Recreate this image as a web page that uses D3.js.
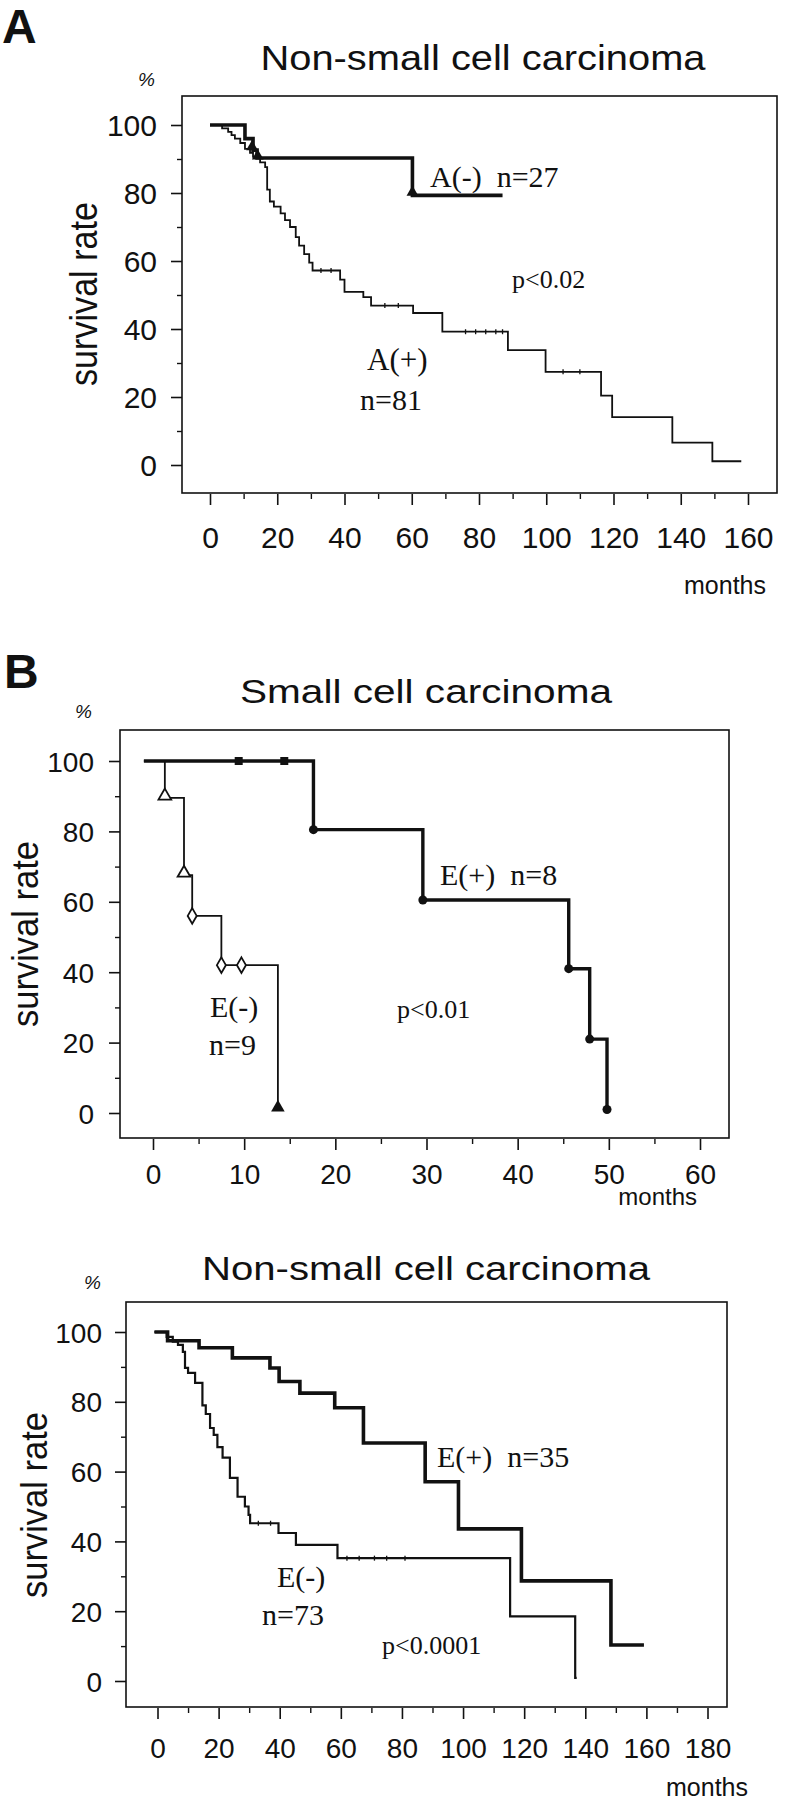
<!DOCTYPE html>
<html><head><meta charset="utf-8">
<script src="https://cdn.jsdelivr.net/npm/d3@7"></script>
<style>body{margin:0;background:#fff}svg{display:block}</style>
</head><body>
<svg id="c" width="787" height="1800"></svg>
<script>
// ---------- Panel A: Non-small cell carcinoma, A(-) vs A(+) ----------
const aXTicks = [0,20,40,60,80,100,120,140,160];
const aYTicks = [0,20,40,60,80,100];
const aNegT = [0, 10.4, 12.8, 14, 60.2];
const aNegS = [100, 96, 92.6, 90.3, 79.3];
const aNegEnd = 87;
const aNegMarks = [[12.5,93],[14.2,90.3],[60.2,79.6]];
const aPosT = [0,3.6,5.4,6.4,7.4,9,10.4,11.9,12.8,14.9,16.4,17,17.8,19,21,22.3,23.8,25.5,26.5,28,29.5,30.5,38.7,40,45.6,47.9,60.4,69.1,88.6,99.8,116.3,119.6,137.5,149.4];
const aPosS = [100,99,98,97,96,94.7,93,91.8,90.6,89,87.6,81,77.5,76,74,72,70,67,64.5,62,59.5,57.2,54.5,50.9,49.4,46.9,44.7,39.2,33.8,27.4,20.4,14.1,6.6,1.1];
const aPosEnd = 158;
const aPosCensor = [33, 36, 52, 56, 76, 79, 82, 85, 87, 105, 110];

// ---------- Panel B1: Small cell carcinoma, E(+) vs E(-) ----------
const b1XTicks = [0,10,20,30,40,50,60];
const b1YTicks = [0,20,40,60,80,100];
const b1PosT = [-1, 17.6, 29.6, 45.6, 47.9, 49.8];
const b1PosS = [100, 80.5, 60.5, 41, 21, 1];
const b1PosEnd = 49.8;
const b1PosCensor = [9.4, 14.4];
const b1NegT = [-1, 1.3, 3.4, 4.3, 7.5, 13.7];
const b1NegS = [100, 89.5, 67.6, 56, 42, 1];
const b1NegEnd = 13.7;
const b1NegTri = [[1.3,89.5],[3.4,67.6]];
const b1NegDia = [[4.3,56],[7.5,42],[9.7,42]];

// ---------- Panel B2: Non-small cell carcinoma, E(+) vs E(-) ----------
const b2XTicks = [0,20,40,60,80,100,120,140,160,180];
const b2YTicks = [0,20,40,60,80,100];
const b2PosT = [-1, 3.3, 13.6, 24.5, 36.8, 39.8, 46.6, 58, 67.4, 87.6, 98.5, 119.1, 148.4];
const b2PosS = [100, 97.5, 95.5, 92.6, 89.7, 85.8, 82.5, 78.3, 68.2, 57.1, 43.6, 28.7, 10.3];
const b2PosEnd = 159.2;
const b2NegT = [-1, 3, 5, 6.7, 8.3, 9, 10, 12.3, 14.7, 15.8, 17.2, 18.4, 19.6, 21.3, 23.7, 26.2, 28.6, 29.8, 30.3, 39.6, 45.3, 58.9, 115.4, 136.7];
const b2NegS = [100, 98.6, 97.2, 96.3, 94.3, 89.7, 88.3, 85.4, 79, 76.5, 72.5, 70.5, 67, 64, 58.2, 52.8, 50, 47.6, 45.2, 42.4, 39, 35.2, 18.5, 0.9];
const b2NegEnd = 137.2;
const b2NegCensor = [33, 37, 62, 66, 71, 75, 81];

const svg = d3.select('#c');
const SANS = "'Liberation Sans', Arial, sans-serif";
const SERIF = "'Liberation Serif', 'Times New Roman', serif";

function panel(cfg) {
  const g = svg.append('g');
  const x = d3.scaleLinear().domain(cfg.xDomain).range(cfg.xRange);
  const y = d3.scaleLinear().domain([0, 100]).range(cfg.yRange);
  const [L, T, R, B] = cfg.frame;

  g.append('rect').attr('x', L).attr('y', T).attr('width', R - L).attr('height', B - T)
    .attr('fill', 'none').attr('stroke', '#111').attr('stroke-width', 1.6);

  const ya = g.append('g').attr('transform', `translate(${L},0)`)
    .call(d3.axisLeft(y).tickValues(cfg.yTicks).tickSize(11).tickPadding(cfg.yPad));
  ya.select('.domain').remove();
  ya.selectAll('line').attr('stroke', '#111').attr('stroke-width', 1.6);
  ya.selectAll('text').attr('font-family', SANS).attr('font-size', cfg.tickFs)
    .attr('fill', '#111').attr('dy', '0.36em');
  const yMinor = cfg.yTicks.slice(0, -1).map(v => v + 10);
  const ym = g.append('g').attr('transform', `translate(${L},0)`)
    .call(d3.axisLeft(y).tickValues(yMinor).tickSize(5).tickFormat(''));
  ym.select('.domain').remove();
  ym.selectAll('line').attr('stroke', '#111').attr('stroke-width', 1.4);

  const xa = g.append('g').attr('transform', `translate(0,${B + 1})`)
    .call(d3.axisBottom(x).tickValues(cfg.xTicks).tickSize(11).tickPadding(0));
  xa.select('.domain').remove();
  xa.selectAll('line').attr('stroke', '#111').attr('stroke-width', 1.6);
  xa.selectAll('text').attr('font-family', SANS).attr('font-size', cfg.tickFs)
    .attr('fill', '#111').attr('y', cfg.xLabOff).attr('dy', 0);
  const step = cfg.xTicks[1] - cfg.xTicks[0];
  const xMinor = cfg.xTicks.slice(0, -1).map(v => v + step / 2);
  const xm = g.append('g').attr('transform', `translate(0,${B + 1})`)
    .call(d3.axisBottom(x).tickValues(xMinor).tickSize(5).tickFormat(''));
  xm.select('.domain').remove();
  xm.selectAll('line').attr('stroke', '#111').attr('stroke-width', 1.4);

  g.append('text').attr('x', cfg.title.x).attr('y', cfg.title.y).attr('text-anchor', 'middle')
    .attr('font-family', SANS).attr('font-size', cfg.title.fs).attr('fill', '#111')
    .attr('textLength', cfg.title.w).attr('lengthAdjust', 'spacingAndGlyphs').text(cfg.title.text);
  g.append('text').attr('x', cfg.pct[0]).attr('y', cfg.pct[1]).attr('font-family', SANS)
    .attr('font-style', 'italic').attr('font-size', 19).attr('fill', '#111').text('%');
  g.append('text').attr('transform', `translate(${cfg.ylab[0]},${cfg.ylab[1]}) rotate(-90)`)
    .attr('text-anchor', 'middle').attr('font-family', SANS).attr('font-size', cfg.ylab[2])
    .attr('fill', '#111').attr('textLength', cfg.ylab[3]).attr('lengthAdjust', 'spacingAndGlyphs')
    .text('survival rate');
  g.append('text').attr('x', cfg.months[0]).attr('y', cfg.months[1]).attr('text-anchor', 'end')
    .attr('font-family', SANS).attr('font-size', cfg.months[2]).attr('fill', '#111').text('months');

  if (cfg.letter) {
    g.append('text').attr('x', cfg.letter.x).attr('y', cfg.letter.y).attr('font-family', SANS)
      .attr('font-weight', 'bold').attr('font-size', 48).attr('fill', '#111').text(cfg.letter.t);
  }
  cfg.notes.forEach(n => {
    g.append('text').attr('x', n[0]).attr('y', n[1]).attr('font-family', SERIF)
      .attr('font-size', n[2]).attr('fill', '#111').attr('xml:space', 'preserve').text(n[3]);
  });
  return {g, x, y};
}

function km(p, T, S, end, width) {
  const pts = T.map((t, i) => [t, S[i]]);
  pts.push([end, S[S.length - 1]]);
  const line = d3.line().x(d => p.x(d[0])).y(d => p.y(d[1])).curve(d3.curveStepAfter);
  p.g.append('path').attr('d', line(pts)).attr('fill', 'none').attr('stroke', '#111')
    .attr('stroke-width', width).attr('stroke-linejoin', 'miter');
}
function censorTicks(p, times, T, S, len) {
  times.forEach(t => {
    let s = S[0];
    T.forEach((tt, i) => { if (tt <= t) s = S[i]; });
    p.g.append('line').attr('x1', p.x(t)).attr('x2', p.x(t))
      .attr('y1', p.y(s) - len).attr('y2', p.y(s) + len).attr('stroke', '#111').attr('stroke-width', 1.3);
  });
}
const triSym = d3.symbol().type(d3.symbolTriangle);
const diaSym = d3.symbol().type(d3.symbolDiamond);

// ---------- draw panel A ----------
const pA = panel({
  xDomain: [0, 160], xRange: [210, 748], yRange: [465, 125],
  frame: [182, 96, 777, 493], xTicks: aXTicks, yTicks: aYTicks,
  tickFs: 30, yPad: 14, xLabOff: 54,
  title: {x: 483, y: 70, fs: 35, w: 445, text: 'Non-small cell carcinoma'},
  pct: [138, 86], ylab: [97, 294, 38, 184], months: [766, 594, 25],
  letter: {x: 2, y: 43, t: 'A'},
  notes: [[430, 187, 30, 'A(-)  n=27'], [512, 288, 26, 'p<0.02'], [367, 370, 31, 'A(+)'], [360, 410, 30, 'n=81']]
});
km(pA, aPosT, aPosS, aPosEnd, 1.8);
km(pA, aNegT, aNegS, aNegEnd, 3.6);
censorTicks(pA, aPosCensor, aPosT, aPosS, 2.5);
aNegMarks.forEach(m => pA.g.append('path').attr('d', triSym.size(60)())
  .attr('transform', `translate(${pA.x(m[0])},${pA.y(m[1]) - 2})`).attr('fill', '#111'));

// ---------- draw panel B1 ----------
const pB1 = panel({
  xDomain: [0, 60], xRange: [153, 700], yRange: [1113, 761],
  frame: [120, 730, 729, 1138], xTicks: b1XTicks, yTicks: b1YTicks,
  tickFs: 28, yPad: 15, xLabOff: 45,
  title: {x: 426, y: 703, fs: 34, w: 372, text: 'Small cell carcinoma'},
  pct: [75, 718], ylab: [38, 934, 36, 186], months: [697, 1205, 24],
  letter: {x: 4, y: 688, t: 'B'},
  notes: [[440, 885, 30, 'E(+)  n=8'], [210, 1017, 30, 'E(-)'], [209, 1055, 30, 'n=9'], [397, 1018, 26, 'p<0.01']]
});
km(pB1, b1NegT, b1NegS, b1NegEnd, 1.8);
km(pB1, b1PosT, b1PosS, b1PosEnd, 3.4);
b1PosT.slice(1).forEach((t, i) => pB1.g.append('circle').attr('cx', pB1.x(t)).attr('cy', pB1.y(b1PosS[i + 1]))
  .attr('r', 4.5).attr('fill', '#111'));
b1PosCensor.forEach(t => pB1.g.append('rect').attr('x', pB1.x(t) - 4).attr('y', pB1.y(100) - 4)
  .attr('width', 8).attr('height', 8).attr('fill', '#111'));
b1NegTri.forEach(m => pB1.g.append('path').attr('d', triSym.size(70)())
  .attr('transform', `translate(${pB1.x(m[0])},${pB1.y(m[1]) - 2})`).attr('fill', '#fff')
  .attr('stroke', '#111').attr('stroke-width', 1.8));
b1NegDia.forEach(m => pB1.g.append('path').attr('d', diaSym.size(70)())
  .attr('transform', `translate(${pB1.x(m[0])},${pB1.y(m[1])})`).attr('fill', '#fff')
  .attr('stroke', '#111').attr('stroke-width', 1.8));
pB1.g.append('path').attr('d', triSym.size(80)())
  .attr('transform', `translate(${pB1.x(b1NegEnd)},${pB1.y(1) - 2})`).attr('fill', '#111');

// ---------- draw panel B2 ----------
const pB2 = panel({
  xDomain: [0, 180], xRange: [157.5, 707.5], yRange: [1681, 1332],
  frame: [126, 1302, 727, 1707], xTicks: b2XTicks, yTicks: b2YTicks,
  tickFs: 28, yPad: 13, xLabOff: 50,
  title: {x: 426, y: 1280, fs: 34, w: 448, text: 'Non-small cell carcinoma'},
  pct: [84, 1289], ylab: [47, 1505, 36, 186], months: [748, 1796, 25],
  letter: null,
  notes: [[437, 1467, 30, 'E(+)  n=35'], [277, 1587, 30, 'E(-)'], [262, 1625, 30, 'n=73'], [382, 1654, 26, 'p<0.0001']]
});
km(pB2, b2NegT, b2NegS, b2NegEnd, 2.2);
km(pB2, b2PosT, b2PosS, b2PosEnd, 3.6);
censorTicks(pB2, b2NegCensor, b2NegT, b2NegS, 2.5);
</script>
</body></html>
